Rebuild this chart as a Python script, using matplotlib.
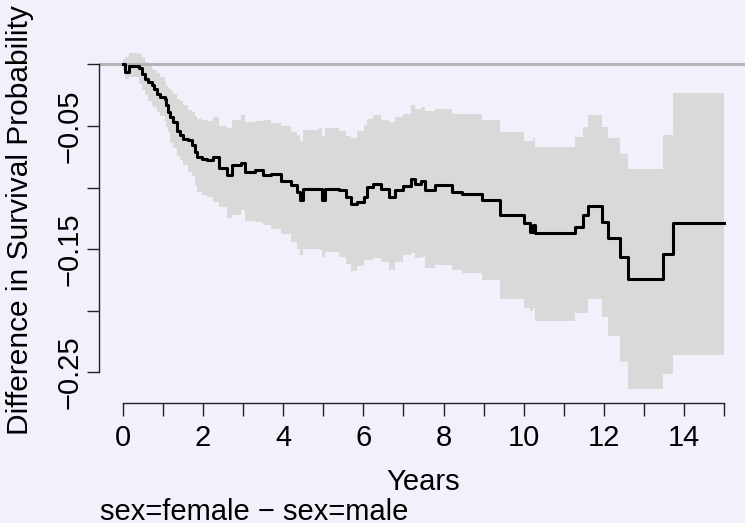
import matplotlib

matplotlib.use("Agg")
import matplotlib.pyplot as plt

plt.rcParams["font.family"] = ["Liberation Sans", "DejaVu Sans"]

# step points: time (years), estimated difference and pointwise CI
years = [0.00, 0.05, 0.15, 0.40, 0.47, 0.56, 0.64, 0.72, 0.77, 0.85,
         0.93, 1.05, 1.09, 1.13, 1.18, 1.26, 1.35, 1.43, 1.51, 1.64,
         1.72, 1.80, 1.86, 1.97, 2.10, 2.25, 2.40, 2.60, 2.72, 2.95,
         3.05, 3.30, 3.50, 3.70, 3.95, 4.20, 4.35, 4.42, 4.50, 4.90,
         4.96, 5.05, 5.40, 5.58, 5.70, 5.85, 6.02, 6.08, 6.25, 6.45,
         6.65, 6.80, 7.00, 7.20, 7.30, 7.45, 7.55, 7.80, 8.20, 8.45,
         8.95, 9.40, 10.00, 10.15, 10.22, 10.28, 11.28, 11.49, 11.61, 11.95,
         12.11, 12.40, 12.61, 13.48, 13.73, 15.00]
diff = [0.000, -0.006, -0.001, -0.003, -0.0076, -0.0116, -0.0143, -0.017, -0.0197, -0.0238,
        -0.0265, -0.028, -0.0333, -0.0387, -0.043, -0.0468, -0.054, -0.0576, -0.0603, -0.0617,
        -0.0657, -0.0712, -0.075, -0.077, -0.078, -0.075, -0.084, -0.090, -0.082, -0.080,
        -0.087, -0.086, -0.090, -0.089, -0.095, -0.098, -0.104, -0.110, -0.101, -0.101,
        -0.110, -0.101, -0.102, -0.108, -0.113, -0.112, -0.108, -0.0995, -0.097, -0.101,
        -0.108, -0.102, -0.099, -0.093, -0.097, -0.095, -0.102, -0.098, -0.104, -0.105,
        -0.110, -0.1225, -0.129, -0.136, -0.130, -0.137, -0.132, -0.1225, -0.115, -0.128,
        -0.141, -0.156, -0.174, -0.154, -0.129, -0.129]
lower = [-0.005, -0.012, -0.010, -0.016, -0.021, -0.025, -0.030, -0.034, -0.035, -0.039,
         -0.042, -0.047, -0.051, -0.055, -0.064, -0.068, -0.074, -0.078, -0.082, -0.087,
         -0.091, -0.098, -0.1036, -0.106, -0.108, -0.112, -0.116, -0.125, -0.122, -0.118,
         -0.127, -0.128, -0.130, -0.134, -0.138, -0.144, -0.150, -0.155, -0.150, -0.151,
         -0.156, -0.152, -0.156, -0.162, -0.168, -0.164, -0.159, -0.159, -0.157, -0.160,
         -0.167, -0.160, -0.155, -0.153, -0.157, -0.156, -0.165, -0.163, -0.167, -0.169,
         -0.175, -0.190, -0.198, -0.200, -0.198, -0.208, -0.202, -0.202, -0.190, -0.205,
         -0.220, -0.2416, -0.263, -0.251, -0.236, -0.236]
upper = [0.004, 0.006, 0.009, 0.008, 0.006, 0.002, -0.001, -0.004, -0.005, -0.007,
         -0.010, -0.014, -0.018, -0.019, -0.021, -0.024, -0.028, -0.030, -0.033, -0.037,
         -0.039, -0.042, -0.044, -0.0455, -0.046, -0.043, -0.050, -0.052, -0.045, -0.041,
         -0.047, -0.046, -0.045, -0.048, -0.050, -0.055, -0.057, -0.062, -0.053, -0.052,
         -0.058, -0.052, -0.054, -0.058, -0.060, -0.054, -0.049, -0.044, -0.041, -0.045,
         -0.047, -0.043, -0.040, -0.033, -0.036, -0.035, -0.038, -0.036, -0.040, -0.040,
         -0.0455, -0.055, -0.062, -0.062, -0.060, -0.067, -0.059, -0.051, -0.0414, -0.051,
         -0.060, -0.0725, -0.0847, -0.0576, -0.0233, -0.0233]

x_ticks = list(range(16))
x_labels = [str(t) if t % 2 == 0 else "" for t in x_ticks]
y_ticks = [0.0, -0.05, -0.10, -0.15, -0.20, -0.25]
y_labels = ["", "\u22120.05", "", "\u22120.15", "", "\u22120.25"]

BG = "#F1F1FB"
W, H = 745, 523
FS = 21

fig = plt.figure(figsize=(W / 100, H / 100), dpi=100, facecolor=BG)
# plot region in pixels (left, right, top, bottom)
left, right, top, bottom = 98.6, 748.3, 39.0, 402.7
ax = fig.add_axes([left / W, 1 - bottom / H, (right - left) / W, (bottom - top) / H])
ax.set_facecolor(BG)

ax.fill_between(years, lower, upper, step="post", color="#D9D9D9", linewidth=0)
ax.axhline(0.0, color="#B5B5B5", linewidth=2.2, zorder=2)
ax.plot(years, diff, drawstyle="steps-post", color="black", linewidth=2.2, zorder=3)

ax.set_xlim(-0.6, 15.6)
ax.set_ylim(-0.2745, 0.0205)

for side in ("top", "right"):
    ax.spines[side].set_visible(False)
ax.spines["left"].set_bounds(-0.25, 0.0)
ax.spines["bottom"].set_bounds(0, 15)
for side in ("left", "bottom"):
    ax.spines[side].set_linewidth(1.0)
    ax.spines[side].set_color("#222222")

ax.set_xticks(x_ticks)
ax.set_xticklabels(x_labels)
ax.set_yticks(y_ticks)
ax.set_yticklabels(y_labels, rotation=90, va="center")
ax.tick_params(axis="both", direction="out", length=9, width=1.0, color="#222222",
               labelsize=FS, labelcolor="black")
ax.tick_params(axis="x", pad=6.5)
ax.tick_params(axis="y", pad=2)

fig.text(423 / W, 1 - 490 / H, "Years", ha="center", va="baseline", fontsize=FS)
fig.text(20 / W, 1 - 220 / H, "Difference in Survival Probability", rotation=90,
         ha="center", va="center", fontsize=21.5)
fig.text(100 / W, 1 - 520 / H, "sex=female \u2212 sex=male", ha="left", va="baseline",
         fontsize=FS)

fig.savefig("out.png", dpi=100, facecolor=BG)
plt.close(fig)
